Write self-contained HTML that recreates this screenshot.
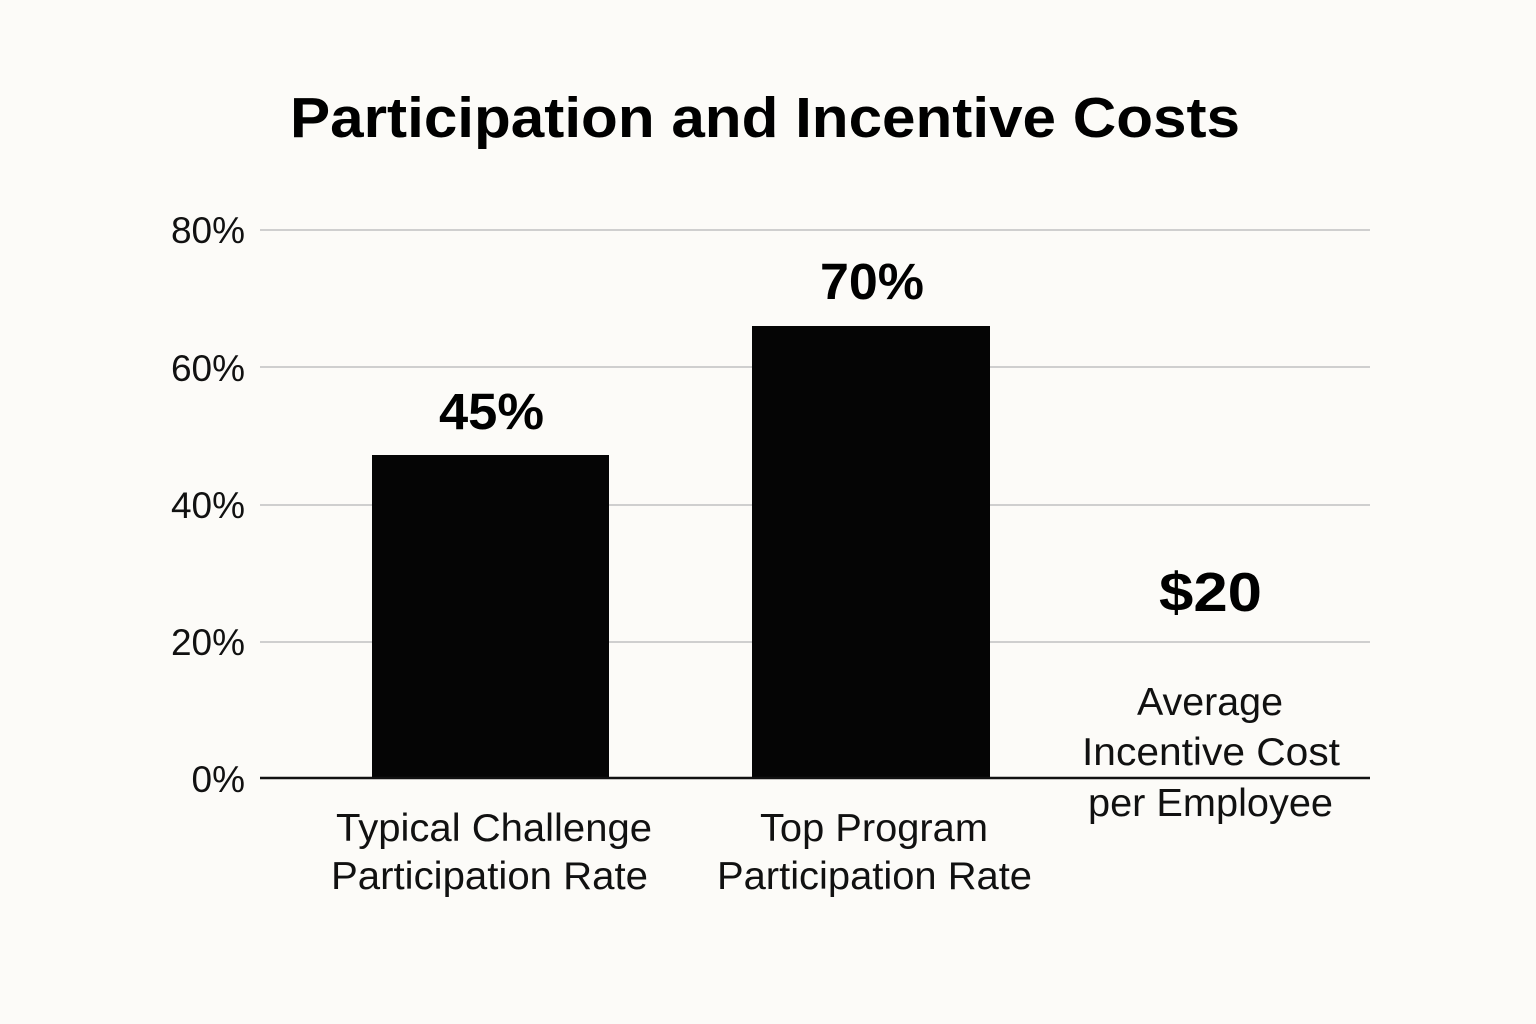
<!DOCTYPE html>
<html><head><meta charset="utf-8"><style>
html,body{margin:0;padding:0;background:#fcfbf8;}
svg{display:block;font-family:"Liberation Sans",sans-serif;}
</style></head><body>
<svg width="1536" height="1024" viewBox="0 0 1536 1024">
<rect width="1536" height="1024" fill="#fcfbf8"/>
<text x="290" y="137" font-size="57" font-weight="bold" fill="#000" textLength="950" lengthAdjust="spacingAndGlyphs">Participation and Incentive Costs</text>
<g stroke="#cfcfcf" stroke-width="2">
<line x1="260" y1="230" x2="1370" y2="230"/>
<line x1="260" y1="367" x2="1370" y2="367"/>
<line x1="260" y1="505" x2="1370" y2="505"/>
<line x1="260" y1="642" x2="1370" y2="642"/>
</g>
<g font-size="37" fill="#111" text-anchor="end">
<text x="245" y="243">80%</text>
<text x="245" y="381">60%</text>
<text x="245" y="518">40%</text>
<text x="245" y="655">20%</text>
<text x="245" y="792">0%</text>
</g>
<rect x="372" y="455" width="237" height="323" fill="#050505"/>
<rect x="752" y="326" width="238" height="452" fill="#050505"/>
<line x1="260" y1="778" x2="1370" y2="778" stroke="#111" stroke-width="2.5"/>
<g font-weight="bold" fill="#000" lengthAdjust="spacingAndGlyphs">
<text x="439" y="429" font-size="51" textLength="105" lengthAdjust="spacingAndGlyphs">45%</text>
<text x="820" y="299" font-size="51" textLength="104" lengthAdjust="spacingAndGlyphs">70%</text>
<text x="1159" y="611" font-size="55" textLength="103" lengthAdjust="spacingAndGlyphs">$20</text>
</g>
<g font-size="39" fill="#111">
<text x="336" y="841" textLength="316" lengthAdjust="spacingAndGlyphs">Typical Challenge</text>
<text x="331" y="889" textLength="317" lengthAdjust="spacingAndGlyphs">Participation Rate</text>
<text x="760" y="841" textLength="228" lengthAdjust="spacingAndGlyphs">Top Program</text>
<text x="717" y="889" textLength="315" lengthAdjust="spacingAndGlyphs">Participation Rate</text>
<text x="1137" y="715" textLength="146" lengthAdjust="spacingAndGlyphs">Average</text>
<text x="1082" y="765" textLength="258" lengthAdjust="spacingAndGlyphs">Incentive Cost</text>
<text x="1088" y="816" textLength="245" lengthAdjust="spacingAndGlyphs">per Employee</text>
</g>
</svg>
</body></html>
